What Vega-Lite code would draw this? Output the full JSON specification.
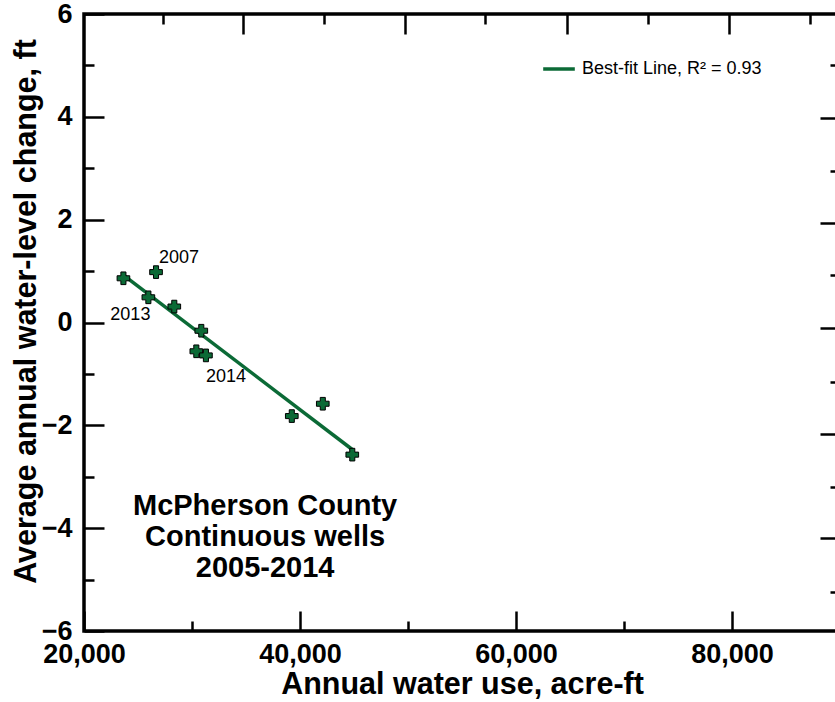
{
  "$schema": "https://vega.github.io/schema/vega-lite/v6.json",
  "width": 756,
  "height": 617,
  "autosize": {"type": "none"},
  "padding": {"left": 84, "top": 14, "right": 0, "bottom": 71},
  "background": "white",
  "config": {
    "view": {"stroke": "black", "strokeWidth": 3.5},
    "font": "Liberation Sans",
    "axis": {
      "domain": false,
      "grid": false,
      "tickColor": "black",
      "tickWidth": 2.5,
      "labelFont": "Liberation Sans",
      "labelFontWeight": "bold",
      "labelFontSize": 27,
      "labelColor": "black",
      "labelFlush": false,
      "labelOverlap": false,
      "titleFont": "Liberation Sans",
      "titleFontWeight": "bold",
      "titleFontSize": 30.5,
      "titleColor": "black"
    }
  },
  "datasets": {
    "wells": [
      {"use": 23650, "change": 0.86, "label": ""},
      {"use": 26670, "change": 0.98, "label": "2007"},
      {"use": 25960, "change": 0.49, "label": "2013"},
      {"use": 28360, "change": 0.31, "label": ""},
      {"use": 30860, "change": -0.16, "label": ""},
      {"use": 30400, "change": -0.56, "label": ""},
      {"use": 31290, "change": -0.64, "label": "2014"},
      {"use": 39240, "change": -1.82, "label": ""},
      {"use": 42110, "change": -1.58, "label": ""},
      {"use": 44840, "change": -2.57, "label": ""}
    ],
    "fit": [
      {"use": 23650, "change": 0.92, "series": "Best-fit Line, R² = 0.93"},
      {"use": 44840, "change": -2.47, "series": "Best-fit Line, R² = 0.93"}
    ]
  },
  "resolve": {"axis": {"x": "independent", "y": "independent"}},
  "layer": [
    {
      "data": {"name": "fit"},
      "mark": {"type": "line", "strokeWidth": 3.5},
      "encoding": {
        "x": {
          "field": "use", "type": "quantitative",
          "scale": {"domain": [20000, 90000], "nice": false, "zero": false},
          "axis": {"orient": "bottom", "values": [30000, 50000, 70000, 90000], "tickSize": -10, "labels": false, "title": null}
        },
        "y": {
          "field": "change", "type": "quantitative",
          "scale": {"domain": [-6, 6], "nice": false},
          "axis": {"orient": "left", "values": [-5, -3, -1, 1, 3, 5], "tickSize": -10, "labels": false, "title": null}
        },
        "color": {
          "field": "series", "type": "nominal",
          "scale": {"range": ["#0b6a36"]},
          "legend": {
            "orient": "none", "legendX": 457, "legendY": 37, "title": null,
            "symbolType": "stroke", "symbolSize": 1000, "symbolStrokeWidth": 3.5,
            "labelFont": "Liberation Sans", "labelFontSize": 18, "labelColor": "black", "labelOffset": 5, "labelLimit": 0
          }
        }
      }
    },
    {
      "data": {"name": "wells"},
      "mark": {"type": "point", "shape": "cross", "filled": true, "fill": "#0b6a36", "stroke": "black", "strokeWidth": 1, "size": 160, "opacity": 1},
      "encoding": {
        "x": {
          "field": "use", "type": "quantitative",
          "axis": {"orient": "bottom", "values": [20000, 40000, 60000, 80000], "format": ",d", "tickSize": -20, "labelPadding": 30, "title": "Annual water use, acre-ft", "titlePadding": 2}
        },
        "y": {
          "field": "change", "type": "quantitative",
          "axis": {"orient": "left", "values": [-6, -4, -2, 0, 2, 4, 6], "tickSize": -20, "labelPadding": 32, "title": "Average annual water-level change, ft", "titlePadding": 0, "titleY": 297}
        }
      }
    },
    {
      "data": {"name": "wells"},
      "transform": [{"filter": "datum.label === '2007'"}],
      "mark": {"type": "text", "dx": 23, "dy": -14, "fontSize": 18, "font": "Liberation Sans", "color": "black"},
      "encoding": {
        "x": {"field": "use", "type": "quantitative", "axis": {"orient": "top", "values": [34680, 49710, 64690, 79720], "tickSize": -20, "labels": false, "title": null}},
        "y": {"field": "change", "type": "quantitative", "axis": {"orient": "right", "values": [3.98, 1.93, -0.1, -2.16, -4.19], "tickSize": -20, "labels": false, "title": null}},
        "text": {"field": "label"}
      }
    },
    {
      "data": {"name": "wells"},
      "transform": [{"filter": "datum.label === '2013'"}],
      "mark": {"type": "text", "dx": -18, "dy": 18, "fontSize": 18, "font": "Liberation Sans", "color": "black"},
      "encoding": {
        "x": {"field": "use", "type": "quantitative", "axis": {"orient": "top", "values": [27280, 42230, 57170, 72200, 87210], "tickSize": -10, "labels": false, "title": null}},
        "y": {"field": "change", "type": "quantitative", "axis": {"orient": "right", "values": [5.0, 2.95, 0.92, -1.15, -3.2, -5.24], "tickSize": -10, "labels": false, "title": null}},
        "text": {"field": "label"}
      }
    },
    {
      "data": {"name": "wells"},
      "transform": [{"filter": "datum.label === '2014'"}],
      "mark": {"type": "text", "dx": 20, "dy": 22, "fontSize": 18, "font": "Liberation Sans", "color": "black"},
      "encoding": {
        "x": {"field": "use", "type": "quantitative", "axis": null},
        "y": {"field": "change", "type": "quantitative", "axis": null},
        "text": {"field": "label"}
      }
    },
    {
      "data": {"values": [{}]},
      "mark": {"type": "text", "text": ["McPherson County", "Continuous wells", "2005-2014"], "lineHeight": 31, "baseline": "middle", "align": "center", "fontSize": 29, "fontWeight": "bold", "font": "Liberation Sans", "color": "black"},
      "encoding": {
        "x": {"datum": 36770, "type": "quantitative", "axis": null},
        "y": {"datum": -3.57, "type": "quantitative", "axis": null}
      }
    }
  ]
}
